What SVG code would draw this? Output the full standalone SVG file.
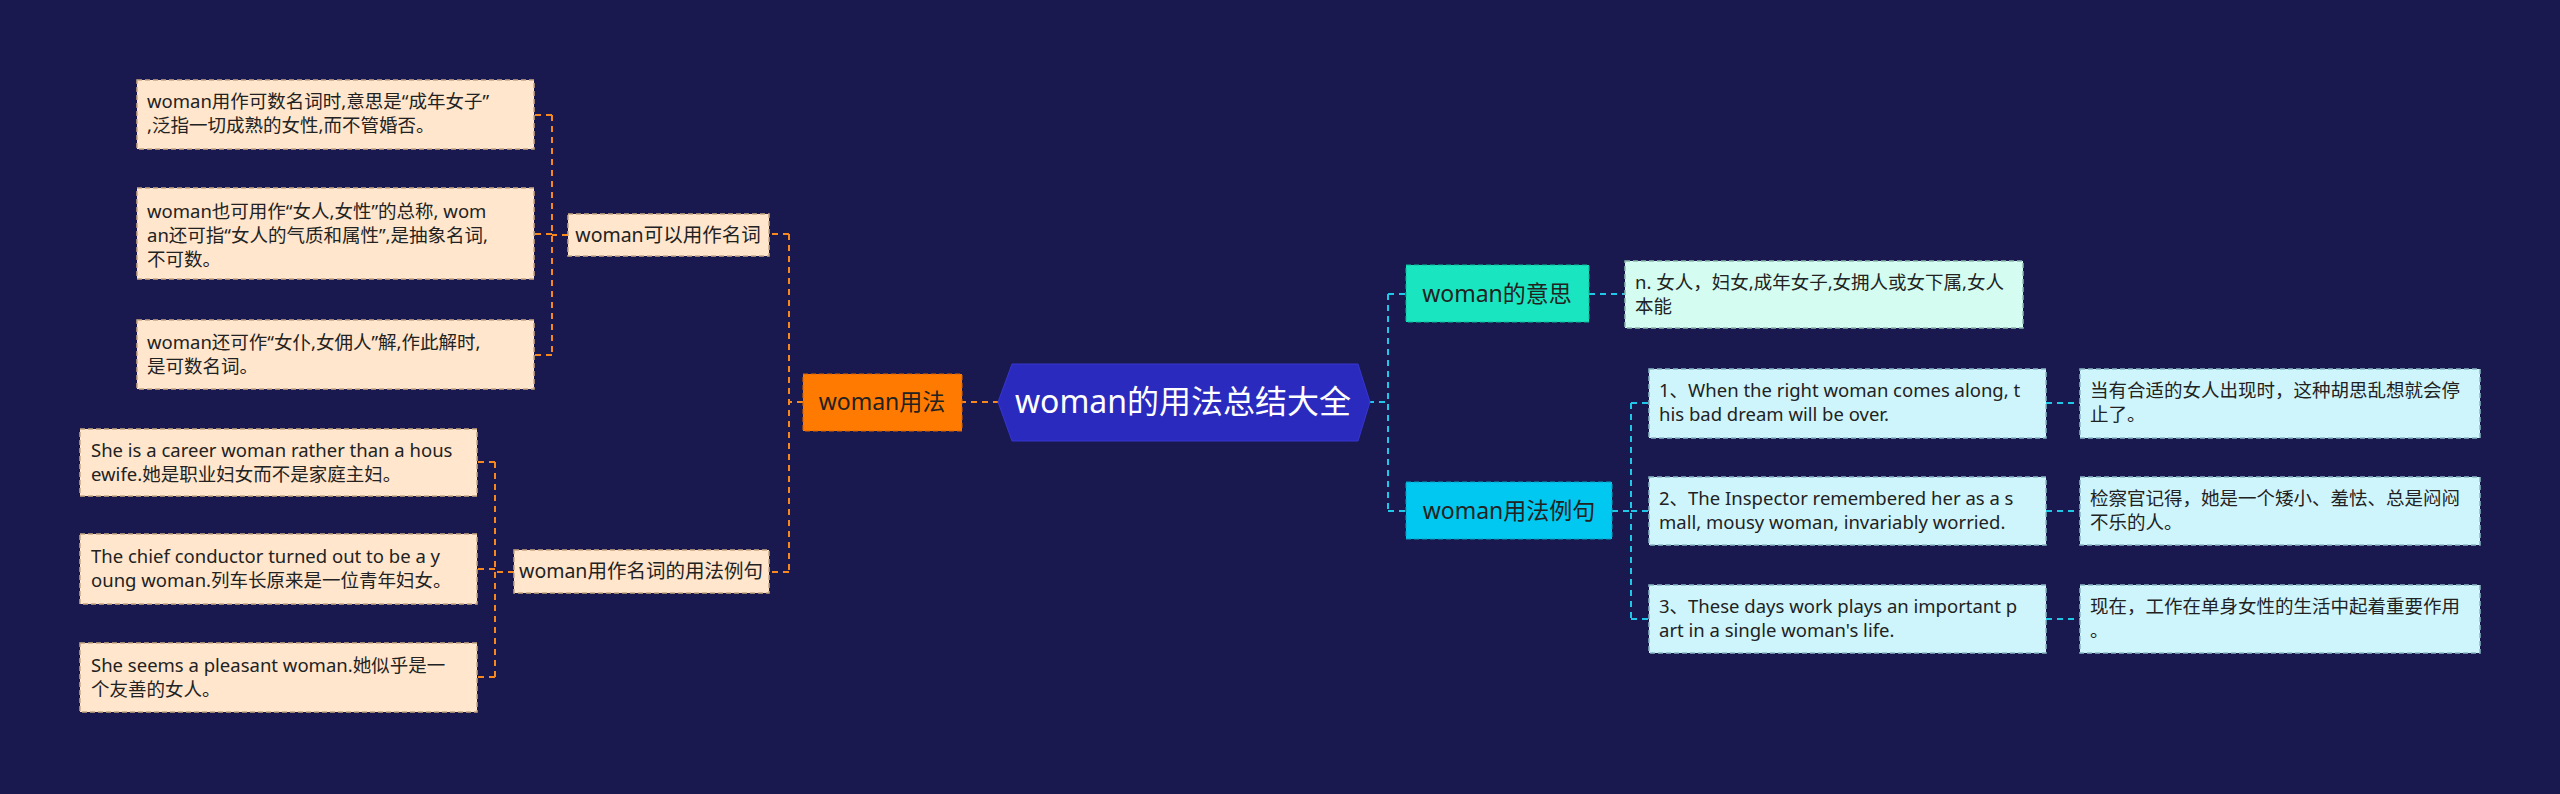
<svg xmlns="http://www.w3.org/2000/svg" width="2560" height="794" viewBox="0 0 2560 794">
<style>
text{font-family:"Noto Sans","Noto Sans CJK SC",sans-serif;fill:#222}
.leaf{font-size:18.5px}
.pe{fill:#ffe6cc;stroke:#c9a882;stroke-width:1.5;stroke-dasharray:5 3}
.cy{fill:#cff5fc;stroke:#8ab8c4;stroke-width:1.5;stroke-dasharray:5 3}
.mi{fill:#d4fcf0;stroke:#8ab8aa;stroke-width:1.5;stroke-dasharray:5 3}
.co{fill:none;stroke:#f7881e;stroke-width:2;stroke-dasharray:6 5}
.cc{fill:none;stroke:#1fc8e6;stroke-width:2;stroke-dasharray:6 5}
</style>
<rect width="2560" height="794" fill="#19184f"/>
<g id="connectors">
<path class="co" d="M999 402H962M803 402H789M789 234V572M789 234H769M789 572H769"/>
<path class="co" d="M568 235H552M552 115V355M552 115H534M552 234H534M552 355H534"/>
<path class="co" d="M514 572H495M495 462V677M495 462H477M495 569H477M495 677H477"/>
<path class="cc" d="M1368 402H1388M1388 294V511M1388 294H1406M1388 511H1406M1589 294H1625"/>
<path class="cc" d="M1612 511H1631M1631 403V619M1631 403H1649M1631 511H1649M1631 619H1649M2046 403H2080M2046 511H2080M2046 619H2080"/>
</g>
<g id="root"><polygon points="1012,364 1358,364 1370,402 1358,441 1012,441 998,402" fill="#2a2abf" stroke="#3636d0"/><text x="1183" y="413" font-size="32" text-anchor="middle" style="fill:#fff">woman的用法总结大全</text></g>
<g id="n-usage"><rect x="803" y="374" width="159" height="57" fill="#ff7a00" stroke="#d86400" stroke-dasharray="5 3"/><text x="882" y="410" font-size="23" text-anchor="middle">woman用法</text></g>
<g id="n-noun"><rect class="pe" x="568" y="214" width="201" height="42"/><text x="668" y="242" font-size="19.5" text-anchor="middle">woman可以用作名词</text></g>
<g id="n-ex"><rect class="pe" x="514" y="550" width="255" height="43"/><text x="641" y="578" font-size="19.5" text-anchor="middle">woman用作名词的用法例句</text></g>
<g id="l1"><rect class="pe" x="137" y="80" width="397" height="69"/><text class="leaf" x="147" y="108">woman用作可数名词时,意思是“成年女子”<tspan x="147" dy="24">,泛指一切成熟的女性,而不管婚否。</tspan></text></g>
<g id="l2"><rect class="pe" x="137" y="188" width="397" height="91"/><text class="leaf" x="147" y="218">woman也可用作“女人,女性”的总称, wom<tspan x="147" dy="24">an还可指“女人的气质和属性”,是抽象名词,</tspan><tspan x="147" dy="24">不可数。</tspan></text></g>
<g id="l3"><rect class="pe" x="137" y="320" width="397" height="69"/><text class="leaf" x="147" y="349">woman还可作“女仆,女佣人”解,作此解时,<tspan x="147" dy="24">是可数名词。</tspan></text></g>
<g id="l4"><rect class="pe" x="80" y="429" width="397" height="67"/><text class="leaf" x="91" y="457">She is a career woman rather than a hous<tspan x="91" dy="24">ewife.她是职业妇女而不是家庭主妇。</tspan></text></g>
<g id="l5"><rect class="pe" x="80" y="534" width="397" height="70"/><text class="leaf" x="91" y="563">The chief conductor turned out to be a y<tspan x="91" dy="24">oung woman.列车长原来是一位青年妇女。</tspan></text></g>
<g id="l6"><rect class="pe" x="80" y="643" width="397" height="69"/><text class="leaf" x="91" y="672">She seems a pleasant woman.她似乎是一<tspan x="91" dy="24">个友善的女人。</tspan></text></g>
<g id="n-mean"><rect x="1406" y="265" width="183" height="57" fill="#19e6c0" stroke="#10b898" stroke-dasharray="5 3"/><text x="1497" y="302" font-size="23" text-anchor="middle">woman的意思</text></g>
<g id="n-sent"><rect x="1406" y="482" width="206" height="57" fill="#00c8f0" stroke="#0aa0c0" stroke-dasharray="5 3"/><text x="1509" y="519" font-size="23" text-anchor="middle">woman用法例句</text></g>
<g id="m1"><rect class="mi" x="1625" y="261" width="398" height="67"/><text class="leaf" x="1635" y="289">n. 女人，妇女,成年女子,女拥人或女下属,女人<tspan x="1635" dy="24">本能</tspan></text></g>
<g id="e1"><rect class="cy" x="1649" y="369" width="397" height="69"/><text class="leaf" x="1659" y="397">1、When the right woman comes along, t<tspan x="1659" dy="24">his bad dream will be over.</tspan></text></g>
<g id="e2"><rect class="cy" x="1649" y="477" width="397" height="68"/><text class="leaf" x="1659" y="505">2、The Inspector remembered her as a s<tspan x="1659" dy="24">mall, mousy woman, invariably worried.</tspan></text></g>
<g id="e3"><rect class="cy" x="1649" y="585" width="397" height="68"/><text class="leaf" x="1659" y="613">3、These days work plays an important p<tspan x="1659" dy="24">art in a single woman's life.</tspan></text></g>
<g id="t1"><rect class="cy" x="2080" y="369" width="400" height="69"/><text class="leaf" x="2090" y="397">当有合适的女人出现时，这种胡思乱想就会停<tspan x="2090" dy="24">止了。</tspan></text></g>
<g id="t2"><rect class="cy" x="2080" y="477" width="400" height="68"/><text class="leaf" x="2090" y="505">检察官记得，她是一个矮小、羞怯、总是闷闷<tspan x="2090" dy="24">不乐的人。</tspan></text></g>
<g id="t3"><rect class="cy" x="2080" y="585" width="400" height="68"/><text class="leaf" x="2090" y="613">现在，工作在单身女性的生活中起着重要作用<tspan x="2090" dy="24">。</tspan></text></g>
</svg>
